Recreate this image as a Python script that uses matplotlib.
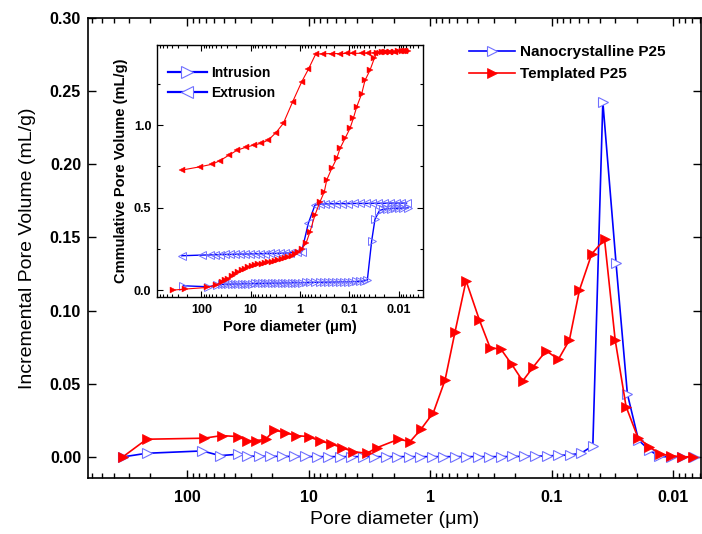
import matplotlib
matplotlib.use("Agg")
import matplotlib.pyplot as plt
from matplotlib.lines import Line2D
from matplotlib.ticker import MultipleLocator, FuncFormatter, LogLocator, NullFormatter

plt.rcParams['font.family'] = ['Liberation Sans', 'DejaVu Sans']

# main plot: incremental pore volume (mL/g) vs pore diameter (um)
templ_d = [338, 215, 72.4, 51.8, 38.3, 31.9, 27.1, 22.5, 19.1, 15.6, 12.7, 10.0, 8.04,
           6.53, 5.33, 4.28, 3.32, 2.72, 1.82, 1.46, 1.19, 0.94, 0.753, 0.623, 0.506,
           0.393, 0.321, 0.261, 0.213, 0.173, 0.141, 0.111, 0.0879, 0.0714, 0.059,
           0.0468, 0.0367, 0.030, 0.0244, 0.0195, 0.0157, 0.0128, 0.0104, 0.0085, 0.0069]
templ_v = [0.0, 0.0121, 0.0128, 0.0146, 0.0139, 0.0111, 0.0111, 0.0121, 0.0184, 0.0166,
           0.0146, 0.0139, 0.0109, 0.0089, 0.0064, 0.0036, 0.0025, 0.0064, 0.0121, 0.0105,
           0.0189, 0.0303, 0.0526, 0.0856, 0.1204, 0.0936, 0.0747, 0.0736, 0.0633, 0.0519,
           0.0617, 0.0726, 0.0667, 0.0799, 0.1141, 0.1387, 0.1487, 0.080, 0.0344, 0.0132,
           0.007, 0.002, 0.0007, 0.0002, 0.0]

nano_d = [338, 215, 74.8, 53.5, 38.3, 31.9, 25.5, 20.6, 16.5, 13.3, 10.7, 8.59, 6.91, 5.56,
          4.47, 3.59, 2.89, 2.32, 1.87, 1.50, 1.21, 0.972, 0.782, 0.628, 0.506, 0.407,
          0.327, 0.263, 0.211, 0.170, 0.137, 0.110, 0.0885, 0.0711, 0.0572, 0.0458,
          0.0379, 0.0295, 0.0238, 0.0193, 0.0158, 0.0130, 0.0105, 0.0085, 0.0068]
nano_v = [0.0, 0.0025, 0.0041, 0.0009, 0.0018, 0.0005, 0.0005, 0.0004, 0.0004, 0.0003,
          0.0003, 0.0002, 0.0002, 0.0002, 0.0002, 0.0002, 0.0002, 0.0002, 0.0002, 0.0002,
          0.0002, 0.0002, 0.0002, 0.0002, 0.0002, 0.0002, 0.0002, 0.0002, 0.0003, 0.0004,
          0.0005, 0.0007, 0.001, 0.0014, 0.0025, 0.0077, 0.2427, 0.1323, 0.043, 0.0116,
          0.0048, 0.0003, 0.0, 0.0, 0.0]

# inset: cumulative pore volume (mL/g)
templ_in_d = [372, 215, 76, 51, 38.7, 33.2, 28.5, 24.3, 20.8, 17.8, 15.2, 13.0, 11.2, 9.55,
              8.18, 7.01, 5.98, 5.13, 4.40, 3.75, 3.21, 2.75, 2.35, 2.01, 1.73, 1.47, 1.26,
              1.08, 0.924, 0.756, 0.627, 0.497, 0.393, 0.321, 0.287, 0.227, 0.180, 0.154,
              0.122, 0.0968, 0.0830, 0.0708, 0.0560, 0.0481, 0.0380, 0.0311, 0.0278,
              0.0220, 0.0180, 0.0149, 0.0124, 0.0103, 0.0085, 0.0071, 0.0064]
templ_in_v = [0.0, 0.006, 0.016, 0.03, 0.05, 0.06, 0.07, 0.085, 0.10, 0.11, 0.12, 0.13,
              0.138, 0.145, 0.15, 0.155, 0.16, 0.164, 0.168, 0.172, 0.176, 0.18, 0.186,
              0.193, 0.20, 0.207, 0.216, 0.23, 0.25, 0.283, 0.353, 0.455, 0.535, 0.596,
              0.667, 0.737, 0.798, 0.859, 0.919, 0.98, 1.04, 1.11, 1.19, 1.27, 1.333,
              1.404, 1.434, 1.44, 1.442, 1.444, 1.445, 1.446, 1.447, 1.448, 1.45]

templ_ex_d = [251, 107, 61.8, 42.0, 27.5, 18.7, 12.6, 8.57, 6.18, 4.40, 3.07, 2.18, 1.41,
              0.924, 0.679, 0.481, 0.337, 0.227, 0.154, 0.113, 0.0830, 0.0560, 0.0412,
              0.0301, 0.0238, 0.0189, 0.0149, 0.0118, 0.0094, 0.0074]
templ_ex_v = [0.727, 0.747, 0.762, 0.784, 0.818, 0.848, 0.865, 0.879, 0.889, 0.909, 0.954,
              1.01, 1.141, 1.262, 1.337, 1.430, 1.432, 1.433, 1.433, 1.434, 1.434, 1.435,
              1.436, 1.438, 1.44, 1.442, 1.444, 1.445, 1.446, 1.447]

nano_in_d = [233, 72.4, 48.9, 38.7, 33.2, 28.5, 24.3, 20.8, 17.8, 15.2, 13.0, 11.2, 9.55,
             8.18, 7.01, 5.98, 5.13, 4.40, 3.75, 3.21, 2.75, 2.35, 2.01, 1.73, 1.47, 1.26,
             1.08, 0.924, 0.756, 0.627, 0.497, 0.393, 0.321, 0.270, 0.224, 0.186, 0.154,
             0.128, 0.106, 0.0881, 0.0731, 0.0607, 0.0515, 0.0431, 0.0351, 0.0301, 0.0246,
             0.0207, 0.0172, 0.0143, 0.0118, 0.0098, 0.0081, 0.0064]
nano_in_v = [0.026, 0.02, 0.03, 0.034, 0.035, 0.036, 0.036, 0.037, 0.037, 0.038, 0.038,
             0.039, 0.039, 0.04, 0.04, 0.04, 0.041, 0.041, 0.042, 0.042, 0.042, 0.043,
             0.043, 0.044, 0.044, 0.045, 0.045, 0.045, 0.046, 0.046, 0.047, 0.047, 0.048,
             0.048, 0.049, 0.049, 0.05, 0.05, 0.05, 0.051, 0.052, 0.053, 0.055, 0.06, 0.30,
             0.43, 0.48, 0.49, 0.492, 0.494, 0.495, 0.496, 0.497, 0.498]

nano_ex_d = [251, 98.6, 66.9, 53.0, 42.0, 33.2, 26.3, 20.8, 16.5, 13.0, 10.3, 8.18, 6.48,
             5.13, 4.06, 3.21, 2.55, 2.01, 1.60, 1.17, 0.924, 0.679, 0.497, 0.393, 0.311,
             0.246, 0.186, 0.141, 0.106, 0.0803, 0.0607, 0.0459, 0.0347, 0.0262, 0.0198,
             0.0149, 0.0113, 0.0089, 0.0069]
nano_ex_v = [0.208, 0.212, 0.213, 0.214, 0.215, 0.216, 0.216, 0.217, 0.218, 0.218, 0.219,
             0.22, 0.22, 0.221, 0.222, 0.222, 0.223, 0.224, 0.225, 0.232, 0.232, 0.404,
             0.515, 0.521, 0.522, 0.523, 0.523, 0.524, 0.524, 0.525, 0.525, 0.525, 0.526,
             0.526, 0.526, 0.527, 0.527, 0.527, 0.527]

BLUE = '#0000ff'
BLUE_EDGE = '#7070ff'
RED = '#ff0000'

fig = plt.figure(figsize=(7.02, 5.34), dpi=100)
W, H = 702.0, 534.0
ax = fig.add_axes([88 / W, 1 - 478 / H, (701 - 88) / W, (478 - 18) / H])

ax.plot(nano_d, nano_v, '-', color=BLUE, lw=1.2, marker='>', ms=7,
        mfc='white', mec=BLUE_EDGE, mew=0.8, label='Nanocrystalline P25', zorder=3)
ax.plot(templ_d, templ_v, '-', color=RED, lw=1.2, marker='>', ms=7,
        mfc=RED, mec=RED, mew=0.5, label='Templated P25', zorder=4)

ax.set_xscale('log')
ax.set_xlim(653, 0.0059)
ax.set_ylim(-0.0144, 0.30)
fmt = FuncFormatter(lambda v, p: f'{v:g}')
ax.xaxis.set_major_locator(LogLocator(base=10))
ax.xaxis.set_major_formatter(fmt)
ax.xaxis.set_minor_locator(LogLocator(base=10, subs=range(2, 10)))
ax.xaxis.set_minor_formatter(NullFormatter())
ax.yaxis.set_major_locator(MultipleLocator(0.05))
ax.yaxis.set_major_formatter(FuncFormatter(lambda v, p: f'{v:.2f}'))
ax.tick_params(which='both', direction='in', top=True, right=True, width=1.0)
ax.tick_params(which='major', length=6)
ax.tick_params(which='minor', length=3.5)
ax.tick_params(axis='x', pad=9, labelsize=11.5)
ax.tick_params(axis='y', pad=5, labelsize=11.5)
for t in ax.get_xticklabels() + ax.get_yticklabels():
    t.set_fontweight('bold')
for s in ax.spines.values():
    s.set_linewidth(1.2)
ax.set_xlabel('Pore diameter (\u03bcm)', fontsize=14, labelpad=4)
ax.set_ylabel('Incremental Pore Volume (mL/g)', fontsize=14, labelpad=10)

ax.legend(loc='upper left', bbox_to_anchor=(469 / W, 1 - 45 / H),
          bbox_transform=fig.transFigure, frameon=False, borderpad=0, borderaxespad=0,
          handlelength=3.0, handletextpad=0.35, labelspacing=0.55,
          prop={'weight': 'bold', 'size': 11})

# inset
ax2 = fig.add_axes([157 / W, 1 - 297 / H, (423 - 157) / W, (297 - 45) / H])
ax2.plot(templ_in_d, templ_in_v, '-', color=RED, lw=0.8, marker='>', ms=4.5,
         mfc=RED, mec=RED, mew=0.3, zorder=4)
ax2.plot(templ_ex_d, templ_ex_v, '-', color=RED, lw=0.8, marker='<', ms=4.5,
         mfc=RED, mec=RED, mew=0.3, zorder=4)
ax2.plot(nano_in_d, nano_in_v, '-', color=BLUE, lw=1.0, marker='>', ms=5.5,
         mfc='none', mec=BLUE_EDGE, mew=0.7, zorder=3)
ax2.plot(nano_ex_d, nano_ex_v, '-', color=BLUE, lw=1.0, marker='<', ms=5.5,
         mfc='none', mec=BLUE_EDGE, mew=0.7, zorder=3)

ax2.set_xscale('log')
ax2.set_xlim(795, 0.0032)
ax2.set_ylim(-0.042, 1.485)
ax2.xaxis.set_major_locator(LogLocator(base=10))
ax2.xaxis.set_major_formatter(fmt)
ax2.xaxis.set_minor_locator(LogLocator(base=10, subs=range(2, 10)))
ax2.xaxis.set_minor_formatter(NullFormatter())
ax2.yaxis.set_major_locator(MultipleLocator(0.5))
ax2.yaxis.set_minor_locator(MultipleLocator(0.25))
ax2.yaxis.set_major_formatter(FuncFormatter(lambda v, p: f'{v:.1f}'))
ax2.tick_params(which='both', direction='in', top=True, right=True, width=0.8)
ax2.tick_params(which='major', length=4)
ax2.tick_params(which='minor', length=2.5)
ax2.tick_params(axis='x', pad=5, labelsize=9)
ax2.tick_params(axis='y', pad=4, labelsize=9)
for t in ax2.get_xticklabels() + ax2.get_yticklabels():
    t.set_fontweight('bold')
for s in ax2.spines.values():
    s.set_linewidth(1.0)
ax2.set_xlabel('Pore diameter (\u03bcm)', fontsize=10.5, fontweight='bold', labelpad=3)
ax2.set_ylabel('Cmmulative Pore Volume (mL/g)', fontsize=10.5, fontweight='bold', labelpad=4)

inset_handles = [
    Line2D([], [], color=BLUE, lw=1.6, marker='>', ms=8, mfc='white', mec=BLUE_EDGE, mew=0.8),
    Line2D([], [], color=BLUE, lw=1.6, marker='<', ms=8, mfc='white', mec=BLUE_EDGE, mew=0.8),
]
ax2.legend(inset_handles, ['Intrusion', 'Extrusion'], loc='upper left',
           bbox_to_anchor=(168 / W, 1 - 66 / H), bbox_transform=fig.transFigure,
           frameon=False, borderpad=0, borderaxespad=0, handlelength=2.8,
           handletextpad=0.3, labelspacing=0.45, prop={'weight': 'bold', 'size': 10})

fig.savefig('out.png', dpi=100)
